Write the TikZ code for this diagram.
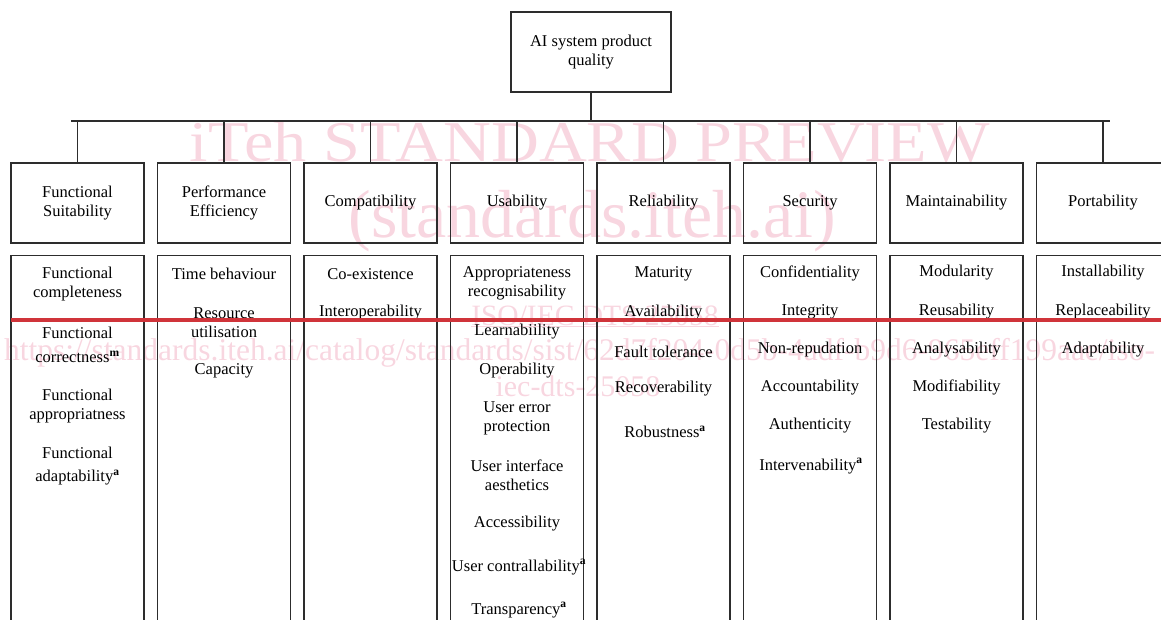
\documentclass[tikz,border=0pt]{standalone}
\usepackage{fontspec}
\setmainfont{Liberation Serif}
\usepackage{graphicx}
\definecolor{boxgray}{RGB}{45,45,45}
\definecolor{wmpink}{RGB}{248,214,224}
\definecolor{barred}{RGB}{208,52,58}
\newcommand{\supa}{\textsuperscript{\textbf{a}}}
\newcommand{\supm}{\textsuperscript{\textbf{m}}}
\begin{document}
\begin{tikzpicture}[x=1pt,y=-1pt,
  frame/.style={draw=boxgray, line width=1.2pt},
  lbl/.style={font=\fontsize{16.5}{19}\selectfont, align=center, inner sep=0pt},
  topbox/.style={frame, lbl, minimum width=160pt, minimum height=80pt},
  headbox/.style={frame, lbl, minimum width=133pt, minimum height=80pt},
  listbox/.style={frame, minimum width=133pt, minimum height=420pt, inner sep=0pt, anchor=north},
  item/.style={lbl},
  link/.style={draw=boxgray, line width=1.2pt},
  stamp/.style={text=wmpink, inner sep=0pt, anchor=base},
  redbar/.style={draw=barred, line width=4.5pt}
]
\useasboundingbox (0,0) rectangle (1161,620);
\clip (0,0) rectangle (1161,620);

% preview stamp behind the chart
\node[stamp] (wm1) at (590,162) {\resizebox{800pt}{40pt}{iTeh STANDARD PREVIEW}};
\node[stamp] (wm2) at (592,238) {\fontsize{68}{70}\selectfont (standards.iteh.ai)};
\node[stamp] (wm3) at (595,325) {\fontsize{29.5}{30}\selectfont\underline{ISO/IEC DTS 25058}};
\node[stamp, anchor=base west] (wm4) at (4,360) {\fontsize{31.5}{32}\selectfont https://standards.iteh.ai/catalog/standards/sist/62d7f204-0d5b-4adf-b9d6-965eff199aae/iso-};
\node[stamp] (wm5) at (578,396) {\fontsize{30}{31}\selectfont iec-dts-25058};

% root
\node[topbox] (root) at (591,52) {AI system product\\quality};

% characteristics
\node[headbox] (fs) at (77.5,203)  {Functional\\Suitability};
\node[headbox] (pe) at (224,203)   {Performance\\Efficiency};
\node[headbox] (co) at (370.5,203) {Compatibility};
\node[headbox] (us) at (517,203)   {Usability};
\node[headbox] (re) at (663.5,203) {Reliability};
\node[headbox] (se) at (810,203)   {Security};
\node[headbox] (ma) at (956.5,203) {Maintainability};
\node[headbox] (po) at (1103,203)  {Portability};

% tree connectors
\coordinate (busL) at (71,121);
\coordinate (busR) at (1110,121);
\draw[link] (busL) -- (busR);
\draw[link] (root.south) -- (root.south |- busL);
\foreach \h in {fs,pe,co,us,re,se,ma,po}
  \draw[link] (\h.north) -- (\h.north |- busL);

% sub-characteristic columns
\foreach \h in {fs,pe,co,us,re,se,ma,po}
  \node[listbox] (\h-list) at (\h.south |- 0,255) {};

% Functional suitability
\node[item] (fs1) at (77.5,284.5) {Functional\\completeness};
\node[item] (fs2) at (77.5,345)   {Functional\\[5pt]correctness\supm};
\node[item] (fs3) at (77.5,406)   {Functional\\appropriatness};
\node[item] (fs4) at (77.5,466)   {Functional\\[4pt]adaptability\supa};
% Performance efficiency
\node[item] (pe1) at (224,274)   {Time behaviour};
\node[item] (pe2) at (224,322.5) {Resource\\utilisation};
\node[item] (pe3) at (224,371)   {Capacity};
% Compatibility
\node[item] (co1) at (370.5,274) {Co-existence};
\node[item] (co2) at (370.5,313) {Interoperability};
% Usability
\node[item] (us1) at (517,283.5) {Appropriateness\\recognisability};
\node[item] (us2) at (517,332)   {Learnabiility};
\node[item] (us3) at (517,371)   {Operability};
\node[item] (us4) at (517,418.5) {User error\\protection};
\node[item] (us5) at (517,475.5) {User interface\\aesthetics};
\node[item] (us6) at (517,524)   {Accessibility};
\node[item] (us7) at (519,567)   {User contrallability\supa};
\node[item] (us8) at (519,610)   {Transparency\supa};
% Reliability
\node[item] (re1) at (663.5,274)   {Maturity};
\node[item] (re2) at (663.5,313)   {Availability};
\node[item] (re3) at (663.5,351.5) {Fault tolerance};
\node[item] (re4) at (663.5,389)   {Recoverability};
\node[item] (re5) at (665,432)     {Robustness\supa};
% Security
\node[item] (se1) at (810,273)   {Confidentiality};
\node[item] (se2) at (810,312)   {Integrity};
\node[item] (se3) at (810,350)   {Non-repudation};
\node[item] (se4) at (810,387.5) {Accountability};
\node[item] (se5) at (810,426)   {Authenticity};
\node[item] (se6) at (811,466)   {Intervenability\supa};
% Maintainability
\node[item] (ma1) at (956.5,273)   {Modularity};
\node[item] (ma2) at (956.5,312)   {Reusability};
\node[item] (ma3) at (956.5,350)   {Analysability};
\node[item] (ma4) at (956.5,387.5) {Modifiability};
\node[item] (ma5) at (956.5,426)   {Testability};
% Portability
\node[item] (po1) at (1103,273) {Installability};
\node[item] (po2) at (1103,312) {Replaceability};
\node[item] (po3) at (1103,350) {Adaptability};

% red rule across the columns
\coordinate (redL) at (11,320);
\coordinate (redR) at (1161,320);
\draw[redbar] (redL) -- (redR);
\end{tikzpicture}
\end{document}
